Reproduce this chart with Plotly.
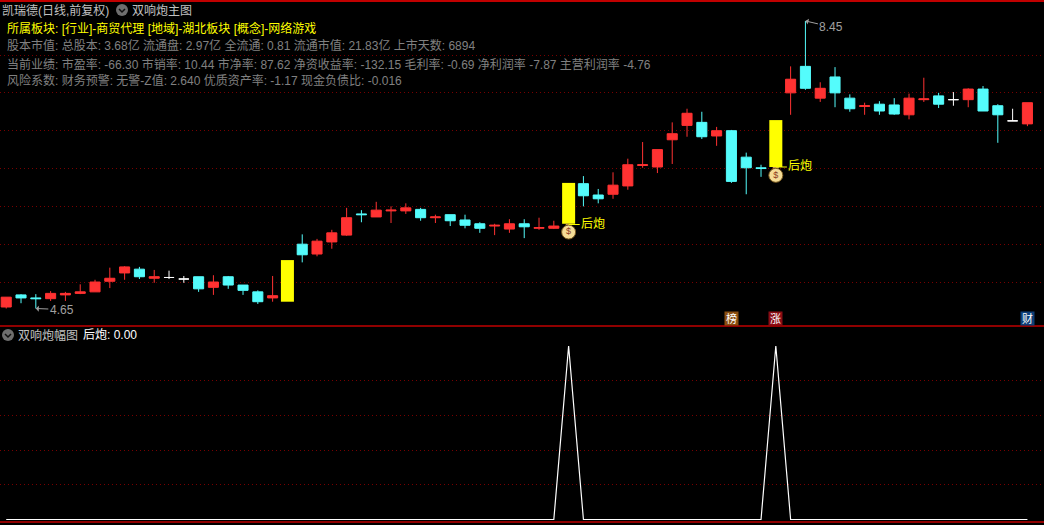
import numpy as np
import plotly.graph_objects as go

W, H = 1044, 525

# 日线数据 (从图上读的)
opens = [4.67, 4.83, 4.79, 4.78, 4.83, 4.85, 4.87, 5.01, 5.12, 5.17, 5.05, 5.06, 5.04, 5.07, 4.93, 5.07, 4.96, 4.87, 4.79, 4.74,
         5.50, 5.37, 5.53, 5.62, 5.90, 5.86, 5.94, 5.94, 5.96, 5.85, 5.89, 5.82, 5.77, 5.74, 5.70, 5.77, 5.71, 5.71, 5.77, 6.30,
         6.15, 6.16, 6.27, 6.54, 6.52, 6.88, 7.07, 7.11, 6.93, 7.00, 6.65, 6.51, 6.52, 7.50, 7.85, 7.43, 7.71, 7.43, 7.32, 7.35,
         7.34, 7.21, 7.41, 7.46, 7.41, 7.41, 7.55, 7.33, 7.13, 7.09]
highs = [4.80, 4.84, 4.84, 4.88, 4.87, 4.97, 5.03, 5.19, 5.21, 5.20, 5.16, 5.15, 5.08, 5.07, 5.09, 5.08, 4.96, 4.89, 5.08, 5.29,
         5.63, 5.57, 5.69, 5.98, 5.95, 6.06, 6.00, 6.04, 5.98, 5.89, 5.89, 5.89, 5.79, 5.77, 5.83, 5.83, 5.85, 5.81, 6.31, 6.40,
         6.23, 6.45, 6.63, 6.85, 6.75, 7.11, 7.29, 7.25, 7.05, 7.01, 6.71, 6.55, 7.14, 7.85, 8.45, 7.64, 7.84, 7.48, 7.37, 7.39,
         7.43, 7.49, 7.70, 7.50, 7.51, 7.56, 7.59, 7.35, 7.29, 7.37]
lows = [4.65, 4.72, 4.65, 4.75, 4.75, 4.84, 4.87, 4.92, 5.03, 5.04, 4.99, 5.04, 4.99, 4.87, 4.83, 4.91, 4.83, 4.71, 4.74, 4.74,
        5.26, 5.34, 5.44, 5.61, 5.79, 5.86, 5.78, 5.90, 5.81, 5.78, 5.74, 5.71, 5.65, 5.62, 5.65, 5.58, 5.69, 5.70, 5.76, 6.00,
        6.04, 6.10, 6.22, 6.51, 6.44, 6.56, 6.92, 6.89, 6.80, 6.31, 6.16, 6.39, 6.52, 7.21, 7.54, 7.38, 7.31, 7.25, 7.21, 7.21,
        7.21, 7.15, 7.38, 7.30, 7.33, 7.31, 7.26, 6.84, 7.13, 7.06]
closes = [4.80, 4.79, 4.78, 4.85, 4.85, 4.87, 5.00, 5.05, 5.20, 5.07, 5.07, 5.06, 5.04, 4.91, 5.00, 4.96, 4.89, 4.74, 4.82, 5.29,
          5.36, 5.54, 5.65, 5.85, 5.89, 5.95, 5.95, 5.98, 5.85, 5.86, 5.81, 5.75, 5.71, 5.75, 5.77, 5.73, 5.72, 5.74, 6.31, 6.14,
          6.10, 6.28, 6.55, 6.55, 6.75, 6.96, 7.23, 6.92, 7.00, 6.33, 6.51, 6.50, 7.14, 7.68, 7.56, 7.56, 7.50, 7.29, 7.33, 7.26,
          7.22, 7.43, 7.42, 7.35, 7.41, 7.55, 7.26, 7.21, 7.13, 7.37]

# 黄色粗线
signal_idx = [19, 38, 52]
signal_bottom = [4.74, 5.77, 6.52]
signal_top = [5.29, 6.31, 7.14]

# 后炮标记
label_idx = [38, 52]
label_price = [5.76, 6.52]
bag_price = [5.66, 6.41]

# 副图
sub_values = [0] * 70
sub_values[38] = 1
sub_values[52] = 1

price_grid = [5, 5.5, 6, 6.5, 7, 7.5, 8]
sub_grid = [0.2, 0.4, 0.6, 0.8]

header_lines = [
    ("所属板块: [行业]-商贸代理 [地域]-湖北板块 [概念]-网络游戏", 29, "#ffff00"),
    ("股本市值: 总股本: 3.68亿 流通盘: 2.97亿 全流通: 0.81 流通市值: 21.83亿 上市天数: 6894", 46, "#808080"),
    ("当前业绩: 市盈率: -66.30 市销率: 10.44 市净率: 87.62 净资收益率: -132.15 毛利率: -0.69 净利润率 -7.87 主营利润率 -4.76", 64, "#808080"),
    ("风险系数: 财务预警: 无警-Z值: 2.640 优质资产率: -1.17 现金负债比: -0.016", 81, "#808080"),
]

RED = "#ff3232"
CYAN = "#54fcfc"
GRID = "#780000"
FONT = "Liberation Sans, Noto Sans CJK SC"


def py(y):
    # 像素转paper
    return 1 - y / H


x = np.arange(len(opens))
o, h, l, c = map(np.array, (opens, highs, lows, closes))
visible = ~np.isin(x, signal_idx)

fig = go.Figure()

groups = [(c > o, RED), (c < o, CYAN), (c == o, "#ffffff")]
for mask, color in groups:
    m = mask & visible
    fig.add_trace(go.Candlestick(
        x=x[m], open=o[m], high=h[m], low=l[m], close=c[m],
        increasing=dict(line=dict(color=color, width=1), fillcolor=color),
        decreasing=dict(line=dict(color=color, width=1), fillcolor=color),
        xaxis="x", yaxis="y", hoverinfo="skip", showlegend=False))

fig.add_trace(go.Bar(
    x=signal_idx, base=signal_bottom,
    y=[t - b for t, b in zip(signal_top, signal_bottom)],
    width=0.88, marker=dict(color="#ffff00", line=dict(width=0)),
    xaxis="x", yaxis="y", hoverinfo="skip", showlegend=False))

# 钱袋
fig.add_trace(go.Scatter(
    x=label_idx, y=[p + 0.09 for p in bag_price], mode="markers",
    marker=dict(symbol="triangle-down", size=6, color="#c89a50"),
    xaxis="x", yaxis="y", hoverinfo="skip", showlegend=False))
fig.add_trace(go.Scatter(
    x=label_idx, y=bag_price, mode="markers+text", text=["$", "$"],
    textposition="middle center", textfont=dict(size=9, color="#8a3a20", family=FONT),
    marker=dict(symbol="circle", size=14, color="#f5dc96", line=dict(color="#7a5a20", width=1)),
    xaxis="x", yaxis="y", hoverinfo="skip", showlegend=False))

# 后炮 短横线
for i, p in zip(label_idx, label_price):
    fig.add_trace(go.Scatter(
        x=[i, i + 0.75], y=[p, p], mode="lines", line=dict(color="#ffff00", width=1),
        xaxis="x", yaxis="y", hoverinfo="skip", showlegend=False))

fig.add_trace(go.Scatter(
    x=x, y=sub_values, mode="lines", line=dict(color="#ffffff", width=1.2),
    xaxis="x2", yaxis="y2", hoverinfo="skip", showlegend=False))

annotations = []


def text_at(txt, px, y, color, size=12):
    # 注释自带2px边距,这里减掉
    annotations.append(dict(text=txt, xref="paper", yref="paper", x=(px - 2) / W, y=py(y),
                            xanchor="left", yanchor="middle", showarrow=False,
                            font=dict(family=FONT, size=size, color=color)))


text_at("凯瑞德(日线,前复权)", 2, 10, "#c0c0c0")
text_at("双响炮主图", 132, 10, "#c0c0c0")
for txt, y, color in header_lines:
    text_at(txt, 7, y, color)
text_at("双响炮幅图", 18, 335, "#c0c0c0")
text_at("后炮: 0.00", 83, 335, "#ffffff")

for i, p in zip(label_idx, label_price):
    annotations.append(dict(text="后炮", x=i + 0.67, y=p + 0.01, xref="x", yref="y", xanchor="left",
                            yanchor="middle", showarrow=False,
                            font=dict(family=FONT, size=12, color="#ffff00")))

# 最高最低价
annotations.append(dict(text="4.65", x=2, y=4.65, xref="x", yref="y", ax=26, ay=1, axref="pixel", ayref="pixel",
                        showarrow=True, arrowhead=1, arrowsize=1, arrowwidth=1, arrowcolor="#a0a0a0",
                        font=dict(family=FONT, size=12, color="#a0a0a0")))
annotations.append(dict(text="8.45", x=54, y=8.45, xref="x", yref="y", ax=26, ay=6, axref="pixel", ayref="pixel",
                        showarrow=True, arrowhead=1, arrowsize=1, arrowwidth=1, arrowcolor="#a0a0a0",
                        font=dict(family=FONT, size=12, color="#a0a0a0")))

# 榜 涨 财
for txt, i, color in [("榜", 49, "#8a4e10"), ("涨", 52, "#8a0c14"), ("财", 69, "#0e3f78")]:
    annotations.append(dict(text=txt, x=i, xref="x", y=py(318.5), yref="paper", showarrow=False,
                            bgcolor=color, borderpad=0, width=13, height=13,
                            font=dict(family=FONT, size=11, color="#ffffff")))

shapes = []
for y, w in [(1, 2), (326, 1.5), (522, 1.5)]:
    shapes.append(dict(type="line", xref="paper", yref="paper", x0=0, x1=1, y0=py(y), y1=py(y),
                       line=dict(color="#c00000", width=w)))
# 折叠按钮
for cx, cy in [(122, 10), (8, 335)]:
    shapes.append(dict(type="circle", xref="paper", yref="paper",
                       x0=(cx - 6) / W, x1=(cx + 6) / W, y0=py(cy + 6), y1=py(cy - 6),
                       fillcolor="#6e6e6e", line=dict(width=0)))
    shapes.append(dict(type="path", xref="paper", yref="paper",
                       path=f"M {(cx - 3) / W} {py(cy - 1)} L {cx / W} {py(cy + 2)} L {(cx + 3) / W} {py(cy - 1)}",
                       line=dict(color="#101010", width=1.5)))

fig.update_layout(
    width=W, height=H,
    margin=dict(l=0, r=0, t=0, b=0),
    paper_bgcolor="#000000", plot_bgcolor="#000000",
    boxmode="overlay", boxgap=0.32, boxgroupgap=0, barmode="overlay",
    showlegend=False, annotations=annotations, shapes=shapes,
    font=dict(family=FONT),
    xaxis=dict(domain=[0, 1], range=[-0.42, 70.12], visible=False, rangeslider=dict(visible=False), anchor="y"),
    xaxis2=dict(domain=[0, 1], range=[-0.42, 70.12], visible=False, anchor="y2"),
    yaxis=dict(domain=[py(326), 1], range=[4.419, 8.727], tickvals=price_grid, showticklabels=False,
               showgrid=True, gridcolor=GRID, griddash="1px,3px", gridwidth=1, zeroline=False, showline=False,
               anchor="x"),
    yaxis2=dict(domain=[0, py(326)], range=[-0.0317, 1.1153], tickvals=sub_grid, showticklabels=False,
                showgrid=True, gridcolor=GRID, griddash="1px,3px", gridwidth=1, zeroline=False, showline=False,
                anchor="x2"),
)

fig.write_html("out.html", config=dict(displayModeBar=False),
               post_script="document.body.style.margin='0';document.body.style.background='#000';")
